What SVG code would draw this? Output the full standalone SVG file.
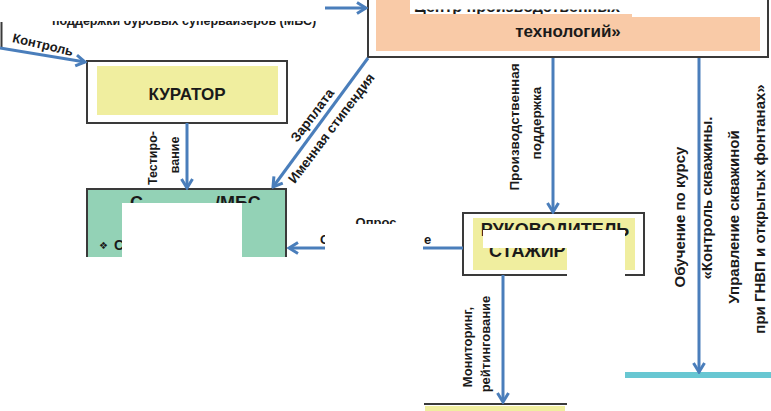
<svg xmlns="http://www.w3.org/2000/svg" width="771" height="411" viewBox="0 0 771 411">
<defs>
<style>
.c{stroke:#4a7ebb;stroke-width:3;fill:none;marker-end:url(#ah)}
.b{fill:none;stroke:#3a3a3a;stroke-width:2}
.t{font-family:"Liberation Sans",Arial,sans-serif;font-weight:bold;fill:#1a1a1a}
.m{fill:#ffffff}
.y{fill:#f0ee9f}
</style>
<marker id="ah" markerUnits="userSpaceOnUse" markerWidth="14" markerHeight="14" viewBox="0 0 14 14" refX="12" refY="7" orient="auto">
<path d="M3,1.5 L12,7 L3,12.5" fill="none" stroke="#4a7ebb" stroke-width="3"/>
</marker>
<clipPath id="clipTL"><rect x="0" y="21" width="340" height="10"/></clipPath>
<clipPath id="clipTop"><rect x="400" y="9.5" width="232" height="4.5"/></clipPath>
<clipPath id="clipG"><rect x="90" y="190" width="195" height="13"/></clipPath>
<clipPath id="clipOp"><rect x="340" y="210" width="70" height="14"/></clipPath>
</defs>
<rect x="0" y="0" width="771" height="411" fill="#ffffff"/>

<g id="node-top">
<rect x="376" y="-2" width="384" height="53" fill="#f9caa7"/>
<rect class="m" x="410" y="-2" width="222" height="16"/>
<rect class="m" x="632" y="-2" width="130" height="19"/>
<text class="t" x="414" y="12" font-size="16" clip-path="url(#clipTop)">Центр производственных</text>
<path class="b" d="M368,-2 V57 H768 V-2"/>
<text class="t" x="568" y="37" font-size="17" text-anchor="middle">технологий»</text>
</g>

<g id="node-topleft">
<path class="b" d="M1.5,22 V47"/>
<text class="t" x="52" y="25" font-size="12.5" clip-path="url(#clipTL)">поддержки буровых супервайзеров (МБС)</text>
</g>

<g id="node-curator">
<rect x="87" y="61" width="200" height="62" fill="#ffffff" stroke="#3a3a3a" stroke-width="2"/>
<rect class="y" x="97" y="66" width="181" height="49"/>
<text class="t" x="187" y="100" font-size="17" text-anchor="middle">КУРАТОР</text>
</g>

<g id="node-center">
<rect x="87" y="189" width="199" height="68" fill="#93d2b6"/>
<path class="b" d="M87,257 V189 H286 V259"/>
<g clip-path="url(#clipG)">
<text class="t" x="130" y="209" font-size="18">С</text>
<text class="t" x="215" y="209" font-size="18">/МБС</text>
</g>
<text x="99" y="249" font-size="10" font-family="DejaVu Sans, sans-serif" fill="#1a1a1a">❖</text>
<text class="t" x="114" y="250" font-size="14">С</text>
</g>

<g id="node-head">
<rect x="463" y="213" width="181" height="62" fill="#ffffff" stroke="#3a3a3a" stroke-width="2"/>
<rect class="y" x="473" y="218" width="162" height="52"/>
<text class="t" x="555" y="236" font-size="18" text-anchor="middle">РУКОВОДИТЕЛЬ</text>
<text class="t" x="489" y="257" font-size="18">СТАЖИР</text>
</g>

<g id="node-bottom">
<rect class="y" x="425" y="406" width="140" height="6"/>
<path class="b" d="M424,404 H567"/>
</g>

<g id="node-right">
<rect x="625" y="372" width="146" height="6" fill="#68c7d2"/>
</g>

<g id="connectors">
<path class="c" d="M0,48 L85,62"/>
<path class="c" d="M325,8 H366"/>
<path class="c" d="M187,123 V188"/>
<path class="c" d="M368,58 L273,187"/>
<path class="c" d="M553,58 V212"/>
<path class="c" d="M699,58 V372"/>
<path class="c" d="M463,248 H289"/>
<path class="c" d="M503,275 V402"/>
</g>

<g id="labels">
<text class="t" font-size="13" text-anchor="middle" transform="translate(42,49) rotate(13)">Контроль</text>
<text class="t" font-size="12.5" text-anchor="middle" transform="translate(157,158) rotate(-90)">Тестиро-</text>
<text class="t" font-size="12.5" text-anchor="middle" transform="translate(179,155) rotate(-90)">вание</text>
<text class="t" font-size="13.5" text-anchor="middle" transform="translate(316,118) rotate(-53)">Зарплата</text>
<text class="t" font-size="13.5" text-anchor="middle" transform="translate(335,131) rotate(-53)">Именная стипендия</text>
<text class="t" font-size="13.5" text-anchor="middle" transform="translate(519,127) rotate(-90)">Производственная</text>
<text class="t" font-size="13.5" text-anchor="middle" transform="translate(541,123) rotate(-90)">поддержка</text>
<text class="t" font-size="15" text-anchor="middle" transform="translate(685,217) rotate(-90)">Обучение по курсу</text>
<text class="t" font-size="15" text-anchor="middle" transform="translate(712,198) rotate(-90)">«Контроль скважины.</text>
<text class="t" font-size="15" text-anchor="middle" transform="translate(739,217) rotate(-90)">Управление  скважиной</text>
<text class="t" font-size="15" text-anchor="middle" transform="translate(765,209) rotate(-90)">при ГНВП и открытых фонтанах»</text>
<text class="t" font-size="13" text-anchor="middle" transform="translate(472,347) rotate(-90)">Мониторинг,</text>
<text class="t" font-size="13" text-anchor="middle" transform="translate(490,344) rotate(-90)">рейтингование</text>
<text class="t" x="376" y="227" font-size="13" text-anchor="middle" clip-path="url(#clipOp)">Опрос</text>
<text class="t" x="320" y="244" font-size="13">С</text>
<text class="t" x="424" y="244" font-size="13">е</text>
</g>

<g id="masks">
<rect class="m" x="325" y="224" width="98" height="32"/>
<rect class="m" x="122" y="203" width="120" height="56"/>
<rect class="m" x="483" y="230" width="142" height="18"/>
<rect class="m" x="567" y="230" width="58" height="51"/>
<rect class="m" x="0" y="257" width="290" height="20"/>
</g>
</svg>
